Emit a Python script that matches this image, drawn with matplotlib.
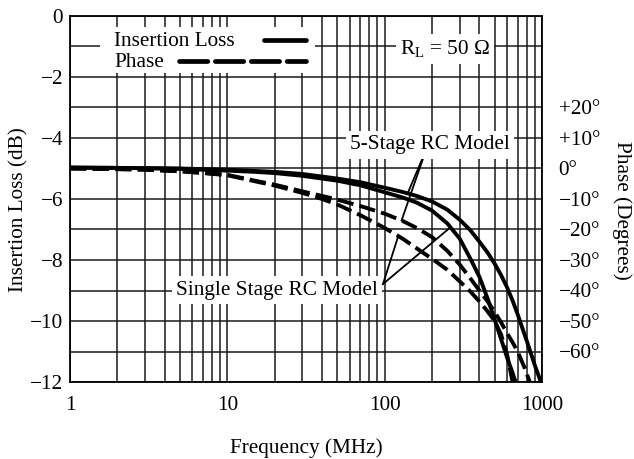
import numpy as np
import matplotlib
matplotlib.use("Agg")
import matplotlib.pyplot as plt
from matplotlib.patches import Rectangle
from matplotlib.lines import Line2D

plt.rcParams['font.family'] = ['Liberation Serif', 'DejaVu Serif']
plt.rcParams['mathtext.fontset'] = 'custom'
plt.rcParams['mathtext.rm'] = 'Liberation Serif'
plt.rcParams['mathtext.it'] = 'Liberation Serif:italic'

# ---- data ----
freq_5stage_il = [1, 2, 3, 5, 7, 10, 15, 20, 30, 50, 70, 100, 130, 160, 200, 250, 300, 350,
                  400, 450, 500, 550, 600, 650, 700, 800, 900, 1000]
il_5stage = [-4.97, -4.98, -4.99, -5.0, -5.02, -5.04, -5.08, -5.11, -5.18, -5.33, -5.45, -5.63,
             -5.77, -5.9, -6.08, -6.35, -6.68, -7.02, -7.4, -7.75, -8.12, -8.5, -8.9, -9.33,
             -9.78, -10.65, -11.45, -12.1]

freq_single_il = [1, 2, 3, 5, 7, 10, 15, 20, 30, 50, 70, 100, 130, 160, 200, 250, 300, 350,
                  400, 450, 500, 550, 600, 650, 700]
il_single = [-4.97, -4.98, -4.99, -5.01, -5.04, -5.07, -5.11, -5.15, -5.24, -5.4, -5.55, -5.78,
             -5.95, -6.12, -6.38, -6.8, -7.3, -7.95, -8.55, -9.25, -9.95, -10.6, -11.2, -11.7,
             -12.2]

freq_5stage_ph = [1, 2, 3, 5, 7, 10, 15, 20, 30, 40, 50, 70, 100, 130, 160, 200, 250, 300, 350,
                  400, 450, 500, 550, 600, 650, 700, 770, 850]
ph_5stage = [0, -0.2, -0.4, -0.9, -1.4, -2.1, -4.0, -5.3, -7.5, -9.0, -10.2, -12.3, -14.8, -17.2,
             -19.5, -22.5, -27, -31.5, -36, -40, -43.5, -47, -50.5, -54, -57, -60, -65, -71]

freq_single_ph = [1, 2, 3, 5, 7, 10, 15, 20, 30, 40, 50, 70, 100, 130, 160, 200, 250, 300, 350,
                  400, 450, 500, 550, 600, 650]
ph_single = [0, -0.2, -0.4, -0.9, -1.5, -2.2, -4.2, -5.6, -8.0, -10.0, -11.8, -15.3, -19.5, -23.0,
             -26.2, -29.6, -33.2, -37.0, -40.3, -43.6, -46.8, -50.0, -54.5, -61.0, -70.0]

il_ticks = [0, -2, -4, -6, -8, -10, -12]
ph_ticks = [20, 10, 0, -10, -20, -30, -40, -50, -60]
x_ticks = [1, 10, 100, 1000]

FS = 15.3
W, H = 634, 459
fig = plt.figure(figsize=(W / 100, H / 100), dpi=100)
L, R, T, B = 70, 542, 16, 382
ax = fig.add_axes([L / W, 1 - B / H, (R - L) / W, (B - T) / H])

def axfrac(px, py):
    return ((px - L) / (R - L), (B - py) / (B - T))

ax.set_xscale('log')
ax.set_xlim(1, 1000)
ax.set_ylim(-12, 0)

# grid
ax.set_xticks(x_ticks)
ax.set_xticklabels([str(v) for v in x_ticks])
minor = [m * 10 ** d for d in range(3) for m in range(2, 10)]
ax.set_xticks(minor, minor=True)
ax.set_xticklabels([], minor=True)
ax.set_yticks(il_ticks)
ax.set_yticklabels([('\u2212' + str(-v)) if v < 0 else str(v) for v in il_ticks])
ax.set_yticks(np.arange(-11, 0, 2), minor=True)
ax.grid(True, which='both', color='#1a1a1a', lw=1.1)
ax.tick_params(which='both', length=0, labelsize=FS, colors='black')
ax.tick_params(axis='y', pad=5)
ax.tick_params(axis='x', pad=10)
for s in ax.spines.values():
    s.set_linewidth(1.3)
    s.set_color('black')

lw = 2.8
ax.plot(freq_5stage_il, il_5stage, color='black', lw=lw, zorder=5)
ax.plot(freq_single_il, il_single, color='black', lw=lw, zorder=5)

ax2 = ax.twinx()
ax2.set_ylim(-70, 50)
ax2.set_yticks(ph_ticks)
ax2.set_yticklabels([('+' + str(v) if v > 0 else ('\u2212' + str(-v) if v < 0 else '0')) + '\u00b0'
                     for v in ph_ticks])
ax2.tick_params(length=0, labelsize=FS, pad=12)
for s in ax2.spines.values():
    s.set_visible(False)
dash = (0, (4.2, 1.6))
ax2.plot(freq_5stage_ph, ph_5stage, color='black', lw=lw, ls=dash, zorder=5)
ax2.plot(freq_single_ph, ph_single, color='black', lw=lw, ls=dash, zorder=5)

# legend box (manual)
x0, y0 = axfrac(100, 73)
x1, y1 = axfrac(315, 27)
ax.add_patch(Rectangle((x0, y0), x1 - x0, y1 - y0, transform=ax.transAxes,
                       facecolor='white', edgecolor='none', zorder=3))
tx, ty = axfrac(114, 42)
ax.text(tx, ty, 'Insertion Loss', transform=ax.transAxes, fontsize=FS,
        va='center', ha='left', zorder=4)
tx, ty = axfrac(114, 63)
ax.text(tx, ty, 'Phase', transform=ax.transAxes, fontsize=FS,
        va='center', ha='left', zorder=4)
a, b = axfrac(264, 40); c, d = axfrac(306, 40)
ax.add_line(Line2D([a, c], [b, d], transform=ax.transAxes, color='black', lw=3.4, zorder=4,
                   solid_capstyle='round'))
a, b = axfrac(179, 61); c, d = axfrac(306, 61)
ax.add_line(Line2D([a, c], [b, d], transform=ax.transAxes, color='black', lw=3.4, zorder=4,
                   ls=(0, (6.0, 1.6)), dash_capstyle='round'))

bb = dict(facecolor='white', edgecolor='none', pad=3)
tx, ty = axfrac(445, 49)
ax.text(tx, ty, 'R$_{\\mathrm{L}}$ = 50 \u03a9', transform=ax.transAxes,
        fontsize=FS, ha='center', va='center', bbox=bb, zorder=4)

tx, ty = axfrac(430, 145)
ax.text(tx, ty, '5-Stage RC Model', transform=ax.transAxes, fontsize=FS,
        ha='center', va='center', bbox=bb, zorder=4)
tx, ty = axfrac(277, 290)
ax.text(tx, ty, 'Single Stage RC Model', transform=ax.transAxes, fontsize=FS,
        ha='center', va='center', bbox=bb, zorder=4)

def val_at(f, fs, vs):
    return np.interp(np.log10(f), np.log10(fs), vs)

def to_frac(f, v, axis):
    t = axis.transData + ax.transAxes.inverted()
    return t.transform((f, v))

# pointer lines
apex5 = axfrac(426, 150)
apex1 = axfrac(383, 284)
targets5 = [to_frac(140, val_at(140, freq_5stage_il, il_5stage), ax),
            to_frac(128, val_at(128, freq_5stage_ph, ph_5stage), ax2)]
targets1 = [to_frac(262, val_at(262, freq_single_il, il_single), ax),
            to_frac(122, val_at(122, freq_single_ph, ph_single), ax2)]
for tg in targets5:
    ax.add_line(Line2D([apex5[0], tg[0]], [apex5[1], tg[1]], transform=ax.transAxes,
                       color='black', lw=1.3, zorder=3.5))
for tg in targets1:
    ax.add_line(Line2D([apex1[0], tg[0]], [apex1[1], tg[1]], transform=ax.transAxes,
                       color='black', lw=1.3, zorder=3.5))

fig.text(19 / W, 1 - 210 / H, 'Insertion Loss (dB)', rotation=90, ha='center', va='center', fontsize=FS)
fig.text(622 / W, 1 - 210 / H, 'Phase (Degrees)', rotation=270, ha='center', va='center', fontsize=FS)
fig.text(306 / W, 1 - 448 / H, 'Frequency (MHz)', ha='center', va='center', fontsize=FS)

fig.savefig('out.png', dpi=100, facecolor='white')
